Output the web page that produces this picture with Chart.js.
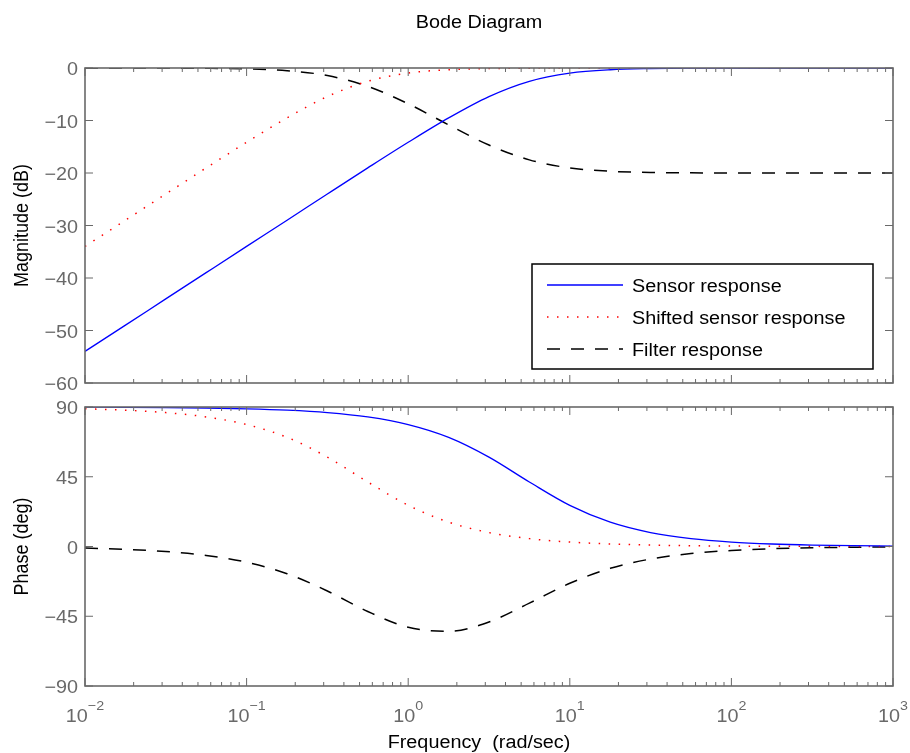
<!DOCTYPE html>
<html>
<head>
<meta charset="utf-8">
<title>Bode Diagram</title>
<script src="https://cdn.jsdelivr.net/npm/chart.js@4.4.1/dist/chart.umd.min.js"></script>
<style>
  html, body { margin: 0; padding: 0; background: #fff; }
  #wrap { position: relative; width: 910px; height: 753px; }
  #magChart { position: absolute; left: 0; top: 0; }
  #phaseChart { position: absolute; left: 0; top: 395px; }
</style>
</head>
<body>
<div id="wrap">
  <canvas id="magChart" width="910" height="395"></canvas>
  <canvas id="phaseChart" width="910" height="358"></canvas>
</div>
<script>
// frequency points (rad/sec), four per decade
const freq = [0.01, 0.0178, 0.0316, 0.0562, 0.1, 0.178, 0.316, 0.562, 1, 1.78, 3.16, 5.62,
  10, 17.8, 31.6, 56.2, 100, 178, 316, 562, 1000];

const seriesNames = ['Sensor response', 'Shifted sensor response', 'Filter response'];

// magnitude (dB)
const sensorMag = [-53.98, -48.98, -43.98, -38.98, -33.98, -28.99, -24.0, -19.03, -14.15, -9.5, -5.44, -2.53,
  -0.97, -0.33, -0.11, -0.03, -0.01, 0, 0, 0, 0];
const shiftedMag = [-33.98, -28.99, -24.0, -19.03, -14.15, -9.5, -5.44, -2.53, -0.97, -0.33, -0.11, -0.03,
  -0.01, 0, 0, 0, 0, 0, 0, 0, 0];
const filterMag = [0, -0.01, -0.02, -0.05, -0.17, -0.52, -1.44, -3.5, -6.82, -10.83, -14.67, -17.5,
  -19.04, -19.67, -19.89, -19.97, -19.99, -20, -20, -20, -20];

// phase (deg)
const sensorPhase = [89.89, 89.8, 89.64, 89.36, 88.85, 87.96, 86.38, 83.58, 78.69, 70.43, 57.69, 41.64,
  26.57, 15.7, 9.0, 5.08, 2.86, 1.61, 0.91, 0.51, 0.29];
const shiftedPhase = [88.85, 87.96, 86.38, 83.58, 78.69, 70.43, 57.69, 41.64, 26.57, 15.7, 9.0, 5.08,
  2.86, 1.61, 0.91, 0.51, 0.29, 0.16, 0.09, 0.05, 0.03];
const filterPhase = [-1.03, -1.83, -3.26, -5.78, -10.16, -17.53, -28.69, -41.94, -52.12, -54.73, -48.7, -36.56,
  -23.71, -14.09, -8.09, -4.57, -2.57, -1.45, -0.81, -0.46, -0.26];

// axis ticks
const freqExp = [-2, -1, 0, 1, 2, 3];
const freqMinor = [2, 3, 4, 5, 6, 7, 8, 9];
const magTicks = [-60, -50, -40, -30, -20, -10, 0];
const phaseTicks = [-90, -45, 0, 45, 90];

const axisGray = '#696969';
const fontFamily = '"Liberation Sans", Arial, Helvetica, sans-serif';

function setFont(ctx, size) {
  ctx.font = size + 'px ' + fontFamily;
}

// text is drawn slightly wide, like the original figure's fonts
function drawText(ctx, str, x, y, align, size, color, rotated) {
  ctx.save();
  ctx.translate(x, y);
  if (rotated) {
    ctx.rotate(-Math.PI / 2);
    ctx.scale(1, 1.1);
  } else {
    ctx.scale(1.1, 1);
  }
  setFont(ctx, size);
  ctx.fillStyle = color;
  ctx.textAlign = align;
  ctx.textBaseline = 'alphabetic';
  ctx.fillText(str, 0, 0);
  ctx.restore();
}

function textWidth(ctx, str, size) {
  ctx.save();
  setFont(ctx, size);
  const w = ctx.measureText(str).width * 1.1;
  ctx.restore();
  return w;
}

function fmtNum(v) {
  return v < 0 ? '\u2212' + Math.abs(v) : String(v);
}

function toPoints(values) {
  return values.map((v, i) => ({ x: freq[i], y: v }));
}

function makeDatasets(sensor, shifted, filter) {
  return [
    {
      label: seriesNames[0], data: toPoints(sensor),
      borderColor: '#0000ff', borderWidth: 1.3, borderDash: []
    },
    {
      label: seriesNames[1], data: toPoints(shifted),
      borderColor: '#ff0000', borderWidth: 1.5, borderDash: [1.5, 8.5]
    },
    {
      label: seriesNames[2], data: toPoints(filter),
      borderColor: '#000000', borderWidth: 1.5, borderDash: [13, 11]
    }
  ];
}

// box, inward ticks, tick labels, titles and legend
const bodeFrame = {
  id: 'bodeFrame',
  afterDraw(chart, args, o) {
    const ctx = chart.ctx;
    const a = chart.chartArea;
    const xs = chart.scales.x;
    const ys = chart.scales.y;

    ctx.save();
    ctx.strokeStyle = axisGray;
    ctx.lineWidth = 1;
    ctx.beginPath();
    freqExp.forEach(e => {
      const major = xs.getPixelForValue(Math.pow(10, e));
      ctx.moveTo(major, a.bottom); ctx.lineTo(major, a.bottom - 8);
      ctx.moveTo(major, a.top); ctx.lineTo(major, a.top + 8);
      if (e === freqExp[freqExp.length - 1]) return;
      freqMinor.forEach(m => {
        const px = xs.getPixelForValue(m * Math.pow(10, e));
        ctx.moveTo(px, a.bottom); ctx.lineTo(px, a.bottom - 4);
        ctx.moveTo(px, a.top); ctx.lineTo(px, a.top + 4);
      });
    });
    o.yTicks.forEach(v => {
      const py = ys.getPixelForValue(v);
      ctx.moveTo(a.left, py); ctx.lineTo(a.left + 8, py);
      ctx.moveTo(a.right, py); ctx.lineTo(a.right - 8, py);
    });
    ctx.stroke();
    ctx.lineWidth = 1.6;
    ctx.strokeRect(a.left, a.top, a.right - a.left, a.bottom - a.top);
    ctx.restore();

    o.yTicks.forEach(v => {
      drawText(ctx, fmtNum(v), a.left - 7, ys.getPixelForValue(v) + 7, 'right', 18, axisGray);
    });

    drawText(ctx, o.yTitle, 28, (a.top + a.bottom) / 2, 'center', 18, '#000', true);

    if (o.title) {
      drawText(ctx, o.title, 479, 28, 'center', 18, '#000');
    }

    if (o.xLabels) {
      freqExp.forEach(e => {
        const px = xs.getPixelForValue(Math.pow(10, e));
        const base = '10';
        const sup = fmtNum(e);
        const wb = textWidth(ctx, base, 18);
        const ws = textWidth(ctx, sup, 13);
        const start = px - (wb + ws) / 2;
        drawText(ctx, base, start, a.bottom + 36, 'left', 18, axisGray);
        drawText(ctx, sup, start + wb, a.bottom + 24, 'left', 13, axisGray);
      });
      drawText(ctx, o.xTitle, 479, a.bottom + 62, 'center', 18, '#000');
    }

    if (o.legend) {
      const L = o.legend;
      ctx.save();
      ctx.fillStyle = '#fff';
      ctx.fillRect(L.x, L.y, L.w, L.h);
      ctx.strokeStyle = '#000';
      ctx.lineWidth = 1.5;
      ctx.strokeRect(L.x, L.y, L.w, L.h);
      chart.data.datasets.forEach((ds, i) => {
        const ly = L.y + 21 + i * 32;
        ctx.beginPath();
        ctx.strokeStyle = ds.borderColor;
        ctx.lineWidth = ds.borderWidth;
        ctx.setLineDash(ds.borderDash);
        ctx.moveTo(L.x + 15, ly);
        ctx.lineTo(L.x + 91, ly);
        ctx.stroke();
        ctx.setLineDash([]);
        drawText(ctx, ds.label, L.x + 100, ly + 7, 'left', 18, '#000');
      });
      ctx.restore();
    }
  }
};

function makeChart(id, datasets, yMin, yMax, padding, frameOpts) {
  return new Chart(document.getElementById(id), {
    type: 'line',
    data: { datasets: datasets },
    options: {
      responsive: false,
      animation: false,
      layout: { padding: padding },
      elements: {
        point: { radius: 0 },
        line: { cubicInterpolationMode: 'monotone', borderCapStyle: 'butt' }
      },
      scales: {
        x: { type: 'logarithmic', min: 0.01, max: 1000, display: false },
        y: { type: 'linear', min: yMin, max: yMax, display: false }
      },
      plugins: {
        legend: { display: false },
        tooltip: { enabled: false },
        bodeFrame: frameOpts
      }
    },
    plugins: [bodeFrame]
  });
}

makeChart('magChart', makeDatasets(sensorMag, shiftedMag, filterMag), -60, 0,
  { left: 85, right: 17, top: 68, bottom: 12 },
  {
    yTicks: magTicks, yTitle: 'Magnitude (dB)', title: 'Bode Diagram',
    legend: { x: 532, y: 264, w: 341, h: 105 }
  });

makeChart('phaseChart', makeDatasets(sensorPhase, shiftedPhase, filterPhase), -90, 90,
  { left: 85, right: 17, top: 12, bottom: 67 },
  {
    yTicks: phaseTicks, yTitle: 'Phase (deg)', xLabels: true, xTitle: 'Frequency  (rad/sec)'
  });
</script>
</body>
</html>
